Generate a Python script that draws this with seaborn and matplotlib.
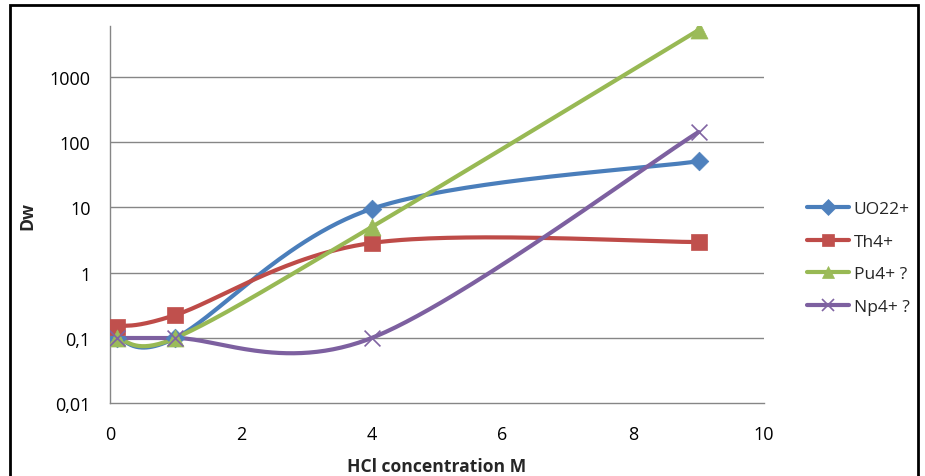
import numpy as np
import pandas as pd
import matplotlib
matplotlib.use("Agg")
import matplotlib.pyplot as plt
from matplotlib.lines import Line2D
from matplotlib.patches import Rectangle
import seaborn as sns

# ---- data ----
hcl = [0.1, 1, 4, 9]
series_names = ["UO22+", "Th4+", "Pu4+ ?", "Np4+ ?"]
uo2 = [0.1, 0.1, 9.5, 51]
th4 = [0.15, 0.225, 2.85, 2.95]
pu4 = [0.1, 0.1, 5, 5200]
np4 = [0.1, 0.1, 0.1, 143]
y_ticks = [0.01, 0.1, 1, 10, 100, 1000]
y_tick_labels = ["0,01", "0,1", "1", "10", "100", "1000"]
x_ticks = [0, 2, 4, 6, 8, 10]

colors = {"UO22+": "#4A7EBB", "Th4+": "#BE4B48", "Pu4+ ?": "#98B954", "Np4+ ?": "#7D60A0"}
mcolors = {"UO22+": "#4F81BD", "Th4+": "#C0504D", "Pu4+ ?": "#9BBB59", "Np4+ ?": "#8064A2"}
markers = {"UO22+": "D", "Th4+": "s", "Pu4+ ?": "^", "Np4+ ?": "x"}
msizes = {"UO22+": 90, "Th4+": 130, "Pu4+ ?": 150, "Np4+ ?": 130}

values = dict(zip(series_names, [uo2, th4, pu4, np4]))


def smooth(xs, ys, n=60):
    """Excel-like Catmull-Rom/Bezier smoothing in (x, log10 y) space."""
    P = np.column_stack([np.asarray(xs, float), np.log10(np.asarray(ys, float))])
    ext = np.vstack([P[0], P, P[-1]])
    out = []
    for i in range(len(P) - 1):
        p0, p1, p2, p3 = ext[i], ext[i + 1], ext[i + 2], ext[i + 3]
        c1 = p1 + (p2 - p0) / 6.0
        c2 = p2 - (p3 - p1) / 6.0
        t = np.linspace(0, 1, n)[:, None]
        seg = ((1 - t) ** 3) * p1 + 3 * ((1 - t) ** 2) * t * c1 + 3 * (1 - t) * t ** 2 * c2 + t ** 3 * p2
        out.append(seg if i == 0 else seg[1:])
    out = np.vstack(out)
    return out[:, 0], 10 ** out[:, 1]


sns.set_theme(style="white")
plt.rcParams["font.family"] = ["Open Sans", "DejaVu Sans"]

fig = plt.figure(figsize=(9.25, 4.77), dpi=100)
ax = fig.add_axes([110 / 925, 1 - 404.3 / 477, (764 - 110) / 925, (404.3 - 27) / 477])

for name in series_names:
    cx, cy = smooth(hcl, values[name])
    dfc = pd.DataFrame({"x": cx, "y": cy})
    sns.lineplot(data=dfc, x="x", y="y", ax=ax, color=colors[name], linewidth=3.0,
                 sort=False, estimator=None, legend=False, zorder=3)
    dfp = pd.DataFrame({"x": hcl, "y": values[name]})
    if markers[name] == "x":
        sns.scatterplot(data=dfp, x="x", y="y", ax=ax, marker="x", s=msizes[name],
                        color=mcolors[name], linewidth=1.2, legend=False, zorder=4)
    else:
        sns.scatterplot(data=dfp, x="x", y="y", ax=ax, marker=markers[name], s=msizes[name],
                        color=mcolors[name], edgecolor=mcolors[name], linewidth=0.5,
                        legend=False, zorder=4)

ax.set_yscale("log")
ax.set_ylim(0.01, 10 ** 3.778)
ax.set_xlim(0, 10)
ax.set_yticks(y_ticks)
ax.set_yticklabels(y_tick_labels)
ax.set_xticks(x_ticks)
ax.set_xticklabels([str(v) for v in x_ticks])
ax.minorticks_off()
ax.yaxis.set_minor_locator(matplotlib.ticker.NullLocator())
ax.tick_params(axis="both", length=0, labelsize=13, colors="black")
ax.tick_params(axis="y", pad=14)
ax.tick_params(axis="x", pad=15.5)

for v in y_ticks[1:]:
    ax.axhline(v, color="#868686", linewidth=1.0, zorder=1)
for s in ["top", "right"]:
    ax.spines[s].set_visible(False)
for s in ["left", "bottom"]:
    ax.spines[s].set_color("#868686")
    ax.spines[s].set_linewidth(1.0)

ax.set_xlabel("HCl concentration M", fontsize=12.6, fontweight="bold")
ax.set_ylabel("Dw", fontsize=12.6, fontweight="bold")
ax.yaxis.set_label_coords((36 - 110) / 654, 0.5)
ax.xaxis.set_label_coords(0.5, -(458 - 404.3) / 377.3)

handles = [Line2D([0], [0], color=colors[n], linewidth=3.0, marker=markers[n],
                  markersize=8 if markers[n] != "x" else 9, markerfacecolor=mcolors[n],
                  markeredgecolor=mcolors[n], markeredgewidth=1.2 if markers[n] == "x" else 0.5)
           for n in series_names]
leg = fig.legend(handles, series_names, loc="center left",
                 bbox_to_anchor=(800 / 925, 1 - 259 / 477), frameon=False,
                 fontsize=12.5, handlelength=2.4, labelspacing=0.95, handletextpad=0.3,
                 borderaxespad=0)

border = Rectangle((10 / 925, -0.1), 908 / 925, 1.1 - 6 / 477, transform=fig.transFigure,
                   fill=False, edgecolor="black", linewidth=2.0, clip_on=False)
fig.patches.append(border)

fig.savefig("out.png", dpi=100, facecolor="white")
